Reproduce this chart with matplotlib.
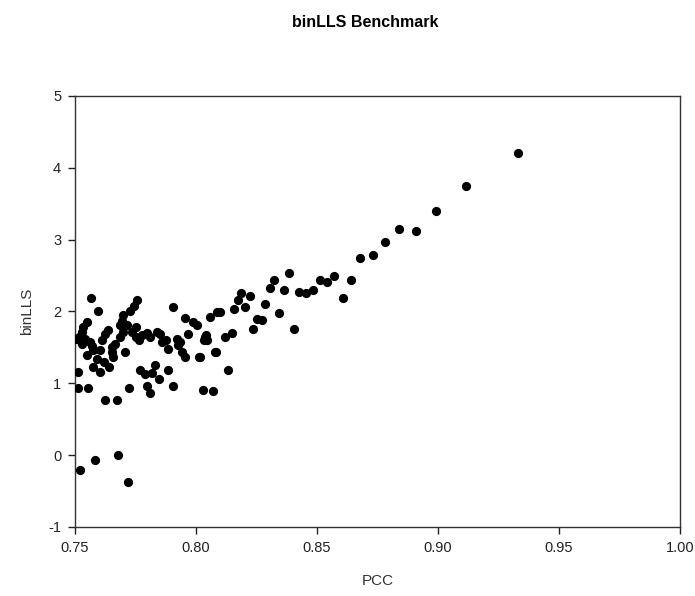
import numpy as np
import matplotlib.pyplot as plt

plt.rcParams['font.family'] = ['Liberation Sans', 'DejaVu Sans']
plt.rcParams['axes.unicode_minus'] = False

# PCC vs binLLS
pcc = [0.933, 0.9116, 0.8994, 0.884, 0.891, 0.878, 0.873, 0.868, 0.864, 0.8606,
       0.8384, 0.8324, 0.8306, 0.8364, 0.8512, 0.854, 0.8571, 0.8427, 0.8455, 0.8485,
       0.8186, 0.8223, 0.8175, 0.8158, 0.8203, 0.8285, 0.810, 0.8058, 0.8251, 0.8271,
       0.8343, 0.8237, 0.8406, 0.8037, 0.8044, 0.812, 0.8147, 0.8017, 0.8081, 0.8134,
       0.8027, 0.8071,
       0.7565, 0.7596, 0.7757, 0.7744, 0.7727, 0.770, 0.7906, 0.7955, 0.7989, 0.8003,
       0.8088, 0.7548, 0.7534, 0.7528, 0.7504, 0.7521, 0.7541, 0.7562, 0.7548, 0.7576,
       0.7576, 0.7603, 0.7642, 0.7589, 0.7603, 0.7610, 0.7624, 0.7638, 0.7651, 0.7658,
       0.7686, 0.7686, 0.7713, 0.7707, 0.7752, 0.7752, 0.7775, 0.7799, 0.7810, 0.7769,
       0.7789, 0.7831, 0.7848, 0.7817, 0.7886, 0.7799, 0.7810, 0.7851, 0.7876, 0.7886,
       0.7920, 0.7927, 0.7941, 0.7955, 0.7968, 0.8014, 0.8033, 0.8041, 0.8079, 0.7906,
       0.7723, 0.7624, 0.7672, 0.7514, 0.7514, 0.7555, 0.7521, 0.7583, 0.7679, 0.7720,
       0.7651, 0.7693, 0.7530, 0.7570, 0.7620, 0.7665, 0.7700, 0.7735, 0.7765, 0.7840,
       0.7860, 0.7935, 0.7515]
binlls = [4.21, 3.74, 3.40, 3.15, 3.12, 2.96, 2.79, 2.74, 2.44, 2.18,
          2.53, 2.44, 2.32, 2.30, 2.44, 2.41, 2.49, 2.27, 2.25, 2.30,
          2.25, 2.22, 2.16, 2.04, 2.06, 2.11, 1.99, 1.92, 1.90, 1.88,
          1.98, 1.76, 1.76, 1.64, 1.60, 1.65, 1.70, 1.37, 1.44, 1.19,
          0.90, 0.89,
          2.18, 2.01, 2.16, 2.08, 2.01, 1.95, 2.06, 1.91, 1.85, 1.81,
          1.99, 1.85, 1.78, 1.71, 1.62, 1.60, 1.62, 1.57, 1.39, 1.46,
          1.23, 1.16, 1.23, 1.34, 1.46, 1.60, 1.69, 1.74, 1.43, 1.37,
          1.64, 1.81, 1.81, 1.43, 1.78, 1.64, 1.67, 1.70, 1.65, 1.19,
          1.13, 1.26, 1.06, 1.14, 1.19, 0.96, 0.86, 1.69, 1.60, 1.48,
          1.62, 1.53, 1.43, 1.37, 1.68, 1.37, 1.60, 1.67, 1.43, 0.96,
          0.93, 0.77, 0.76, 1.16, 0.93, 0.93, -0.21, -0.07, 0.00, -0.37,
          1.50, 1.87, 1.55, 1.52, 1.30, 1.55, 1.72, 1.72, 1.60, 1.72,
          1.58, 1.58, 1.64]

fig = plt.figure(figsize=(6.95, 5.96), dpi=100)
ax = fig.add_axes([0.108, 0.116, 0.870, 0.723])

ax.scatter(pcc, binlls, s=44, c='black', marker='o', linewidths=0, zorder=3)

ax.set_xlim(0.75, 1.00)
ax.set_ylim(-1, 5)
ax.set_xticks(np.arange(0.75, 1.001, 0.05))
ax.set_xticklabels(['0.75', '0.80', '0.85', '0.90', '0.95', '1.00'])
ax.set_yticks(range(-1, 6))
ax.tick_params(direction='out', length=5, width=1, labelsize=10.5,
               colors='#222222', top=False, right=False, pad=5)
for s in ax.spines.values():
    s.set_color('#333333')
    s.set_linewidth(1)

ax.set_xlabel('PCC', fontsize=11, color='#333333', labelpad=14)
ax.set_ylabel('binLLS', fontsize=11, color='#333333', labelpad=10)
fig.text(0.525, 0.962, 'binLLS Benchmark', ha='center', va='center',
         fontsize=11.5, fontweight='bold')

fig.savefig('out.png', dpi=100)
